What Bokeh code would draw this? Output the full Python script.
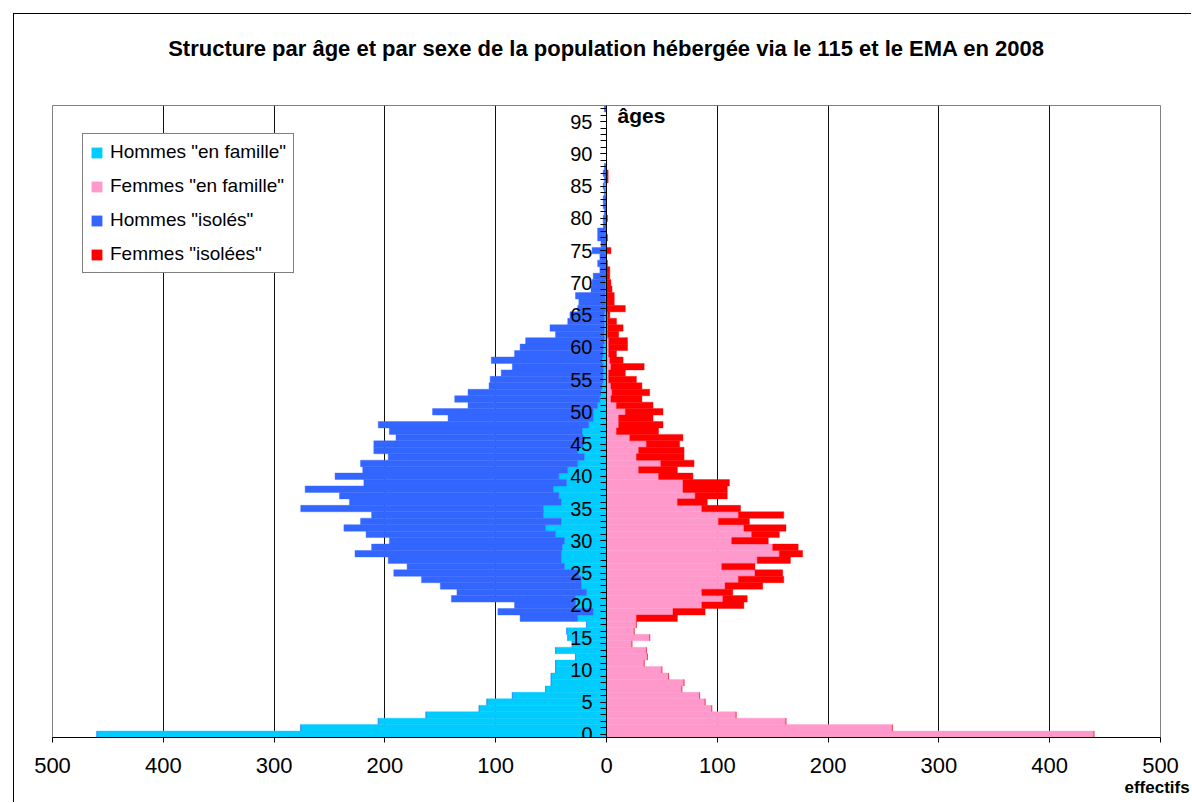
import numpy as np
from bokeh.plotting import figure
from bokeh.models import FixedTicker, Legend, LegendItem, Label, ColumnDataSource, Title
from bokeh.embed import file_html
from bokeh.resources import INLINE

# ---------------- data (ages 0..97) ----------------
ages = list(range(0, 98))

hommes_famille = [
    460, 276, 206, 163, 115, 108, 85, 55, 50, 50,
    46, 46, 28, 46, 31, 35, 36, 18, 26, 12,
    28, 28, 18, 23, 23, 25, 38, 41, 41, 40,
    38, 46, 55, 41, 57, 57, 41, 43, 48, 36,
    43, 35, 26, 20, 26, 21, 21, 22, 16, 12,
    12, 8, 6, 5, 4, 3, 3, 3, 4, 3,
    3, 2, 2, 2, 2, 2, 1, 1, 1, 1,
    1, 0, 0, 0, 0, 0, 0, 0, 0, 0,
    0, 0, 0, 0, 1, 2, 0, 0, 0, 0,
    0, 0, 0, 0, 0, 0, 0, 0]

hommes_isoles = [
    0, 0, 0, 0, 0, 0, 0, 0, 0, 0,
    0, 0, 0, 0, 0, 0, 0, 0, 52, 86,
    55, 112, 117, 127, 144, 167, 142, 156, 186, 172,
    158, 171, 182, 181, 155, 219, 191, 198, 224, 183,
    202, 185, 196, 177, 184, 189, 169, 174, 190, 131,
    145, 117, 131, 120, 102, 102, 92, 82, 100, 80,
    75, 71, 44, 49, 33, 31, 25, 24, 27, 13,
    12, 12, 6, 8, 6, 13, 5, 8, 8, 3,
    3, 2, 3, 3, 1, 1, 2, 3, 2, 0,
    0, 0, 0, 0, 0, 0, 0, 2]

femmes_famille = [
    440, 258, 162, 117, 95, 89, 84, 68, 70, 56,
    50, 34, 37, 36, 23, 39, 25, 27, 27, 60,
    86, 105, 86, 107, 119, 134, 104, 136, 156, 150,
    113, 131, 124, 101, 119, 86, 64, 80, 69, 69,
    47, 29, 49, 27, 29, 36, 21, 9, 11, 11,
    17, 9, 4, 5, 4, 2, 2, 4, 3, 2,
    2, 2, 1, 1, 1, 1, 0, 0, 0, 0,
    0, 0, 0, 0, 0, 0, 0, 0, 0, 0,
    0, 0, 0, 0, 0, 0, 0, 0, 0, 0,
    0, 0, 0, 0, 0, 0, 0, 0]

femmes_isolees = [
    0, 0, 0, 0, 0, 0, 0, 0, 0, 0,
    0, 0, 0, 0, 0, 0, 0, 0, 37, 29,
    38, 22, 28, 34, 41, 25, 30, 30, 21, 23,
    33, 25, 38, 28, 41, 35, 27, 29, 40, 42,
    31, 35, 30, 43, 41, 30, 48, 38, 40, 31,
    34, 33, 28, 34, 28, 25, 15, 30, 12, 7,
    17, 17, 10, 14, 8, 2, 17, 7, 7, 5,
    4, 3, 3, 1, 0, 4, 0, 1, 0, 0,
    1, 0, 0, 0, 0, 0, 1.5, 1.5, 0, 0,
    0, 0, 0, 0, 0, 0, 0, 0]

series_names = ['Hommes "en famille"', 'Femmes "en famille"',
                'Hommes "isolés"', 'Femmes "isolées"']
series_colors = ["#00CCFF", "#FF99CC", "#3366FF", "#FF0000"]

x_tick_values = [-500, -400, -300, -200, -100, 0, 100, 200, 300, 400, 500]
x_tick_labels = ["500", "400", "300", "200", "100", "0", "100", "200", "300", "400", "500"]
grid_values = [-400, -300, -200, -100, 100, 200, 300, 400]
age_tick_values = list(range(0, 96, 5))
age_minor_ticks = list(range(0, 98))

title_text = "Structure par âge et par sexe de la population hébergée via le 115 et le EMA en 2008"
y_title = "âges"
x_title = "effectifs"

# ---------------- derived stacks ----------------
hf = np.array(hommes_famille, float)
hi = np.array(hommes_isoles, float)
ff = np.array(femmes_famille, float)
fi = np.array(femmes_isolees, float)

src = ColumnDataSource(dict(
    age=ages,
    hf_l=-hf, hf_r=np.zeros_like(hf),
    hi_l=-(hf + hi), hi_r=-hf,
    ff_l=np.zeros_like(ff), ff_r=ff,
    fi_l=ff, fi_r=ff + fi,
))

FONT = "Liberation Sans"

p = figure(width=1178, height=789, x_range=(-500, 500), y_range=(-0.5, 97.5),
           output_backend="svg", toolbar_location=None,
           min_border_left=38, min_border_right=32, min_border_top=91, min_border_bottom=66)
p.margin = (13, 0, 0, 13)
p.styles = {"border-left": "1px solid #000000", "border-top": "1px solid #000000"}

p.background_fill_color = "white"
p.border_fill_color = "white"
p.outline_line_color = "#808080"
p.outline_line_width = 1

# bars
r_hf = p.hbar(y="age", left="hf_l", right="hf_r", height=1, source=src,
              fill_color=series_colors[0], line_color=series_colors[0], line_width=0.4)
r_ff = p.hbar(y="age", left="ff_l", right="ff_r", height=1, source=src,
              fill_color=series_colors[1], line_color=series_colors[1], line_width=0.4)
r_hi = p.hbar(y="age", left="hi_l", right="hi_r", height=1, source=src,
              fill_color=series_colors[2], line_color=series_colors[2], line_width=0.4)
r_fi = p.hbar(y="age", left="fi_l", right="fi_r", height=1, source=src,
              fill_color=series_colors[3], line_color=series_colors[3], line_width=0.4)

# grid
p.ygrid.visible = False
p.xgrid.ticker = FixedTicker(ticks=grid_values)
p.xgrid.grid_line_color = "#111111"
p.xgrid.grid_line_width = 1
p.xgrid.level = "underlay"

# x axis
p.xaxis.ticker = FixedTicker(ticks=x_tick_values)
p.xaxis.major_label_overrides = dict(zip(x_tick_values, x_tick_labels))
p.xaxis.major_tick_in = 0
p.xaxis.major_tick_out = 5
p.xaxis.minor_tick_line_color = None
p.xaxis.axis_line_color = "black"
p.xaxis.major_tick_line_color = "black"
p.xaxis.major_label_text_font = FONT
p.xaxis.major_label_text_font_size = "22px"
p.xaxis.major_label_text_color = "black"
p.xaxis.major_label_standoff = 15

# y axis at x = 0
p.yaxis.fixed_location = 0
p.yaxis.ticker = FixedTicker(ticks=age_tick_values, minor_ticks=age_minor_ticks)
p.yaxis.major_tick_in = 0
p.yaxis.major_tick_out = 6
p.yaxis.minor_tick_in = 0
p.yaxis.minor_tick_out = 6
p.yaxis.axis_line_color = "black"
p.yaxis.major_tick_line_color = "black"
p.yaxis.minor_tick_line_color = "black"
p.yaxis.major_label_text_font = FONT
p.yaxis.major_label_text_font_size = "20px"
p.yaxis.major_label_text_color = "black"
p.yaxis.major_label_standoff = 8

# titles: spacer (closest to frame) then the main title above it
p.add_layout(Title(text=" ", text_font_size="1px", standoff=42), "above")
p.title.text = title_text
p.title.align = "center"
p.title.text_font = FONT
p.title.text_font_size = "22px"
p.title.text_font_style = "bold"
p.title.text_color = "black"
p.title.standoff = 0

# axis titles
p.add_layout(Label(x=0, y=96, x_offset=11, text=y_title, text_font=FONT,
                   text_font_size="21px", text_font_style="bold", text_color="black",
                   text_baseline="middle", text_align="left"))
x_title_obj = Title(text=x_title, align="left", offset=1072, standoff=0,
                    text_font=FONT, text_font_size="17px", text_font_style="bold",
                    text_color="black")
p.add_layout(x_title_obj, "below")

# legend
legend = Legend(items=[LegendItem(label=series_names[0], renderers=[r_hf]),
                       LegendItem(label=series_names[1], renderers=[r_ff]),
                       LegendItem(label=series_names[2], renderers=[r_hi]),
                       LegendItem(label=series_names[3], renderers=[r_fi])],
                location=(30, 464), orientation="vertical")
legend.border_line_color = "black"
legend.border_line_width = 1
legend.background_fill_color = "white"
legend.background_fill_alpha = 1
legend.padding = 7
legend.margin = 0
legend.spacing = 12
legend.label_standoff = 7
legend.glyph_width = 13
legend.glyph_height = 13
legend.label_text_font = FONT
legend.label_text_font_size = "19px"
legend.label_text_color = "black"
p.add_layout(legend)

open("out.html", "w").write(file_html(p, INLINE))
